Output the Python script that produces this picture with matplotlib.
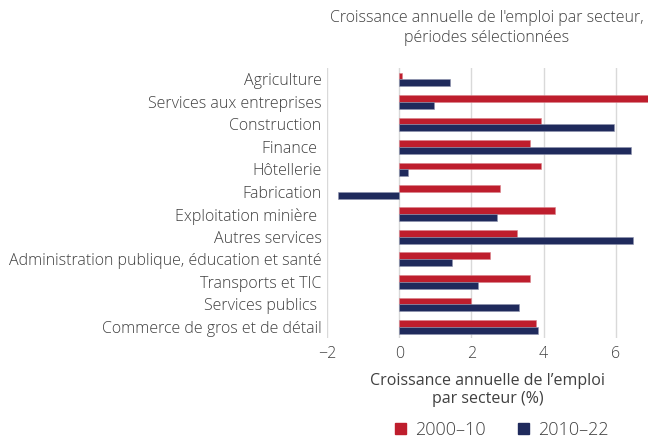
import numpy as np
import matplotlib.pyplot as plt
from matplotlib.patches import Patch

plt.rcParams['font.family'] = ['Open Sans', 'DejaVu Sans']
plt.rcParams['font.weight'] = 'light'

sectors = [
    "Agriculture",
    "Services aux entreprises",
    "Construction",
    "Finance ",
    "Hôtellerie",
    "Fabrication",
    "Exploitation minière ",
    "Autres services",
    "Administration publique, éducation et santé",
    "Transports et TIC",
    "Services publics ",
    "Commerce de gros et de détail",
]
growth_2000_10 = [0.09, 7.2, 3.92, 3.62, 3.92, 2.80, 4.31, 3.27, 2.52, 3.62, 2.00, 3.80]
growth_2010_22 = [1.42, 0.97, 5.96, 6.41, 0.23, -1.69, 2.71, 6.48, 1.47, 2.19, 3.31, 3.85]
xticks = [-2, 0, 2, 4, 6]

red = "#be1e2d"
navy = "#1f2a5c"
txt = "#404040"
fs = 11.5

fig = plt.figure(figsize=(6.48, 4.38), dpi=100)
ax = fig.add_axes([327 / 648, 1 - 338 / 438, (648 - 327) / 648, (338 - 68) / 438])

y = np.arange(len(sectors))
h = 0.3
ax.barh(y - h / 2, growth_2000_10, height=h, color=red, edgecolor="#d9808a", linewidth=0.4, zorder=3)
ax.barh(y + h / 2, growth_2010_22, height=h, color=navy, edgecolor="#8e93ad", linewidth=0.4, zorder=3)

ax.set_xlim(-2, 6.89)
ax.set_ylim(len(sectors) - 0.5, -0.5)
ax.set_yticks(y)
ax.set_yticklabels(sectors, fontsize=fs, color=txt)
ax.set_xticks(xticks)
ax.set_xticklabels(["\u2212" + str(-t) if t < 0 else str(t) for t in xticks], fontsize=fs, color=txt)
ax.tick_params(length=0, pad=4)
ax.tick_params(axis="x", pad=6)
for s in ax.spines.values():
    s.set_visible(False)
ax.grid(axis="x", color="#d9d9d9", linewidth=1, zorder=0)

ax.set_xlabel("Croissance annuelle de l\u2019emploi\npar secteur (%)", fontsize=fs, color=txt, labelpad=8, linespacing=1.15)

fig.text(487 / 648, 1 - 28 / 438, "Croissance annuelle de l'emploi par secteur,\npériodes sélectionnées",
         ha="center", va="center", fontsize=fs, color=txt, linespacing=1.3)

handles = [Patch(color=red), Patch(color=navy)]
fig.legend(handles, ["2000\u201310", "2010\u201322"], loc="center", bbox_to_anchor=(502 / 648, 1 - 430 / 438),
           ncol=2, frameon=False, fontsize=13, handlelength=0.6, handleheight=0.6, handletextpad=0.5,
           columnspacing=1.8, labelcolor=txt)

fig.savefig("out.png", dpi=100)
